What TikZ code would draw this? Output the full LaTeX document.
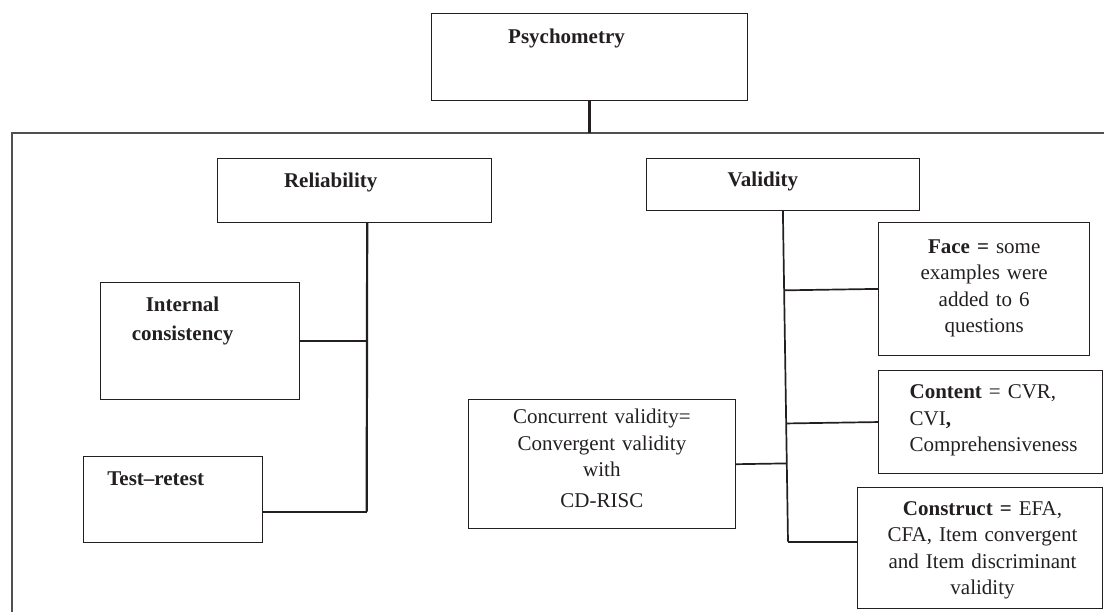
\documentclass[tikz,border=0pt]{standalone}
\usepackage{fontspec}
\setmainfont{Liberation Serif}
\usetikzlibrary{calc}
\definecolor{ink}{RGB}{35,31,32}
\definecolor{framegray}{RGB}{80,80,80}

\begin{document}
\begin{tikzpicture}[x=1pt, y=-1pt,
    font=\fontsize{21}{26.5}\selectfont, text=ink,
    box/.style={draw=ink, line width=1.1pt, rectangle, inner sep=0pt, anchor=north west},
    boxtext/.style={inner sep=0pt, anchor=base, align=center, text width=#1},
    branch/.style={draw=ink, line width=1.7pt},
    trunk/.style={draw=ink, line width=2.2pt}]
    \useasboundingbox (0,0) rectangle (1104,612);

    % outer frame, cut by the page on the right and at the bottom
    \coordinate (ftl) at (12,133);
    \draw[framegray, line width=1.4pt] (1104,133) -- (ftl) -- (12,612);

    % top
    \node[box, minimum width=316pt, minimum height=86.7pt,
          label={[boxtext=200pt, xshift=-23pt, yshift=-30pt]north:{\textbf{Psychometry}}}]
          (psy) at (431,13.3) {};

    % reliability side
    \node[box, minimum width=273.7pt, minimum height=63.4pt,
          label={[boxtext=200pt, xshift=-24pt, yshift=-29.7pt]north:{\textbf{Reliability}}}]
          (rel) at (217.3,158.3) {};
    \node[box, minimum width=198.4pt, minimum height=117pt,
          label={[boxtext=170pt, xshift=-17.5pt, yshift=-29.4pt]north:{\textbf{Internal}\\[2.8pt]\textbf{consistency}}}]
          (intc) at (100.3,282.3) {};
    \node[box, minimum width=178.7pt, minimum height=86.3pt,
          label={[boxtext=150pt, xshift=-17.4pt, yshift=-29.7pt]north:{\textbf{Test--retest}}}]
          (test) at (83.3,456) {};

    % validity side
    \node[box, minimum width=273.3pt, minimum height=51.7pt,
          label={[boxtext=200pt, xshift=-20pt, yshift=-28.7pt]north:{\textbf{Validity}}}]
          (val) at (645.7,158.3) {};
    \node[box, minimum width=211.3pt, minimum height=133.3pt,
          label={[boxtext=200pt, yshift=-31.6pt]north:{\textbf{Face =} some\\examples were\\added to 6\\questions}}]
          (face) at (878,221.7) {};
    \node[box, minimum width=223.7pt, minimum height=103pt,
          label={[boxtext=185pt, align=left, xshift=11.7pt, yshift=-29pt]north:{\textbf{Content} = CVR,\\CVI\textbf{,}\\Comprehensiveness}}]
          (cont) at (878,370) {};
    \node[box, minimum width=245pt, minimum height=121pt,
          label={[boxtext=240pt, xshift=2.5pt, yshift=-27.7pt]north:{\textbf{Construct =} EFA,\\CFA, Item convergent\\and Item discriminant\\validity}}]
          (cons) at (857,487.3) {};
    \node[box, minimum width=267.3pt, minimum height=129.3pt,
          label={[boxtext=250pt, yshift=-25pt]north:{Concurrent validity=\\Convergent validity\\with\\[4.5pt]CD-RISC}}]
          (conc) at (467.7,399) {};

    % connectors
    \draw[trunk] (psy.south) -- (psy.south |- ftl);

    \coordinate (rbot) at (366.7,511.7);
    \draw[trunk] ([xshift=12.5pt]rel.south) -- (rbot);
    \draw[branch] (intc.east) -- (intc.east -| rbot);
    \draw[branch] (rbot) -- (rbot -| test.east);

    \coordinate (vbot) at (788,541.7);
    \draw[branch] (val.south) -- (vbot);
    \draw[branch] (face.west) -- ($(val.south)!(face.west)!(vbot)$);
    \draw[branch] (cont.west) -- ($(val.south)!(cont.west)!(vbot)$);
    \draw[branch] (conc.east) -- ($(val.south)!(conc.east)!(vbot)$);
    \draw[branch] (vbot) -- (vbot -| cons.west);
\end{tikzpicture}
\end{document}
